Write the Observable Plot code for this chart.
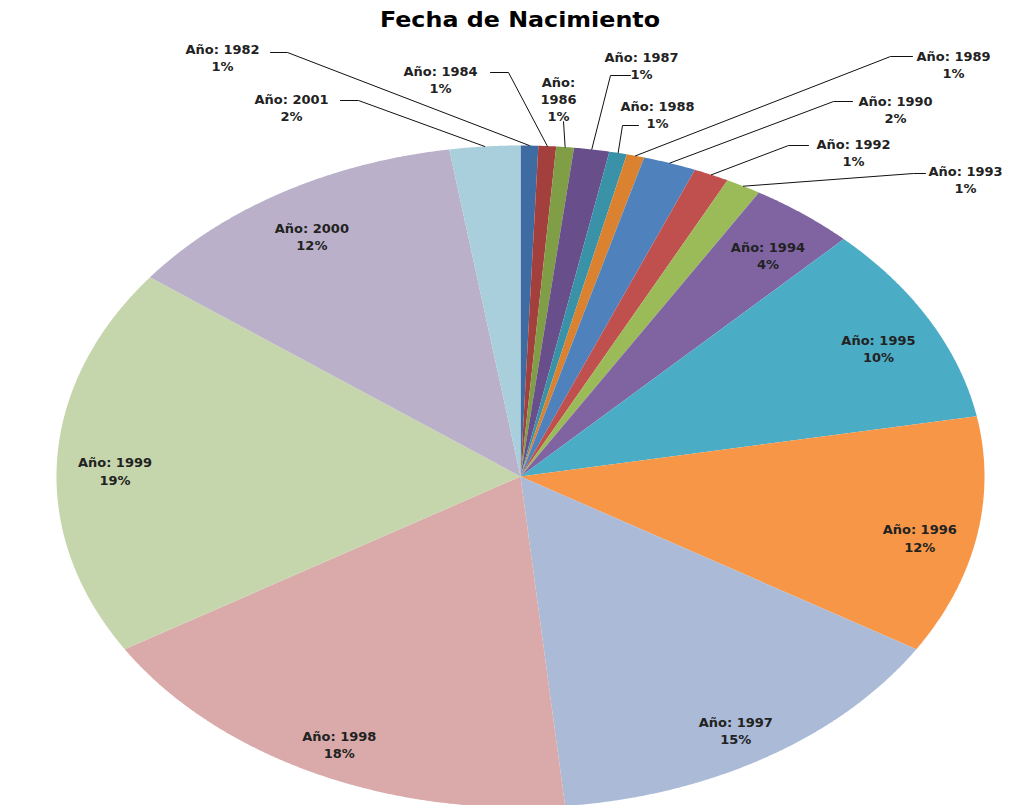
<!DOCTYPE html>
<html>
<head>
<meta charset="utf-8">
<script src="https://cdn.jsdelivr.net/npm/d3@7"></script>
<script src="https://cdn.jsdelivr.net/npm/@observablehq/plot@0.6"></script>
<style>
  html, body { margin: 0; padding: 0; background: #fff; }
  body { width: 1029px; height: 805px; overflow: hidden; font-family: "DejaVu Sans", sans-serif; }
  #title { position: relative; height: 38px; }
  #title span {
    position: absolute; left: 520px; top: 9px;
    transform: translateX(-50%) scaleX(1.16);
    font-size: 20.5px; font-weight: bold; color: #000; white-space: nowrap; line-height: 22px;
  }
  #chart svg { display: block; }
</style>
</head>
<body>
<div id="title"><span>Fecha de Nacimiento</span></div>
<div id="chart"></div>
<script>
// ---- data (clockwise from 12 o'clock) ----
const years  = ["1982","1984","1986","1987","1988","1989","1990","1992","1993","1994","1995","1996","1997","1998","1999","2000","2001"];
const counts = [1, 1, 1, 2, 1, 1, 3, 2, 2, 6, 16, 19, 24, 29, 31, 20, 4];
const colors = ["#3E6BA1","#A3403E","#7F9E45","#694E8C","#3A92A9","#DA822F",
                "#4F81BD","#C0504D","#9BBB59","#8064A2","#4BACC6","#F79646",
                "#AABAD7","#D9AAA9","#C6D6AC","#BAB0C9","#A9CEDC"];

// callout labels (small slices): label centre, leader start, elbow (page pixels)
const calloutYears  = ["1982","2001","1984","1986","1987","1988","1989","1990","1992","1993"];
const calloutText   = ["Año: 1982","Año: 2001","Año: 1984","Año:\n1986","Año: 1987","Año: 1988","Año: 1989","Año: 1990","Año: 1992","Año: 1993"];
const calloutLabel  = [[222,57],[291,106.5],[440,78.5],[558,98],[641,64.5],[657,114],[953,64],[895,108.5],[853,152],[965,178.5]];
const calloutStart  = [[270,52],[340,100],[490,72],[563,121],[630,75],[638,125],[912,56],[852,101],[808,145],[925,173]];
const calloutElbow  = [[287,52],[358,100],[508,72],[563,121],[610,75],[622,125],[890,56],[833,101],[788,145],[913,173]];

// ---- geometry ----
const W = 1029, H = 767, TOP = 38;
const CX = 520, CY = 476, RX = 464, RY = 331;          // ellipse in page pixels
const toU = px => (px - CX) / RX;
const toV = py => (CY - py) / RY;

const total = d3.sum(counts);
const table = years.map((y, i) => ({year: y, count: counts[i], pct: Math.round(counts[i] / total * 100)}));
const arcs = d3.pie().sort(null).value(d => d.count)(table);

const poly = [];
for (const a of arcs) {
  poly.push({year: a.data.year, u: 0, v: 0});
  const n = Math.max(2, Math.ceil((a.endAngle - a.startAngle) / 0.005));
  for (let k = 0; k <= n; k++) {
    const t = a.startAngle + (a.endAngle - a.startAngle) * k / n;
    poly.push({year: a.data.year, u: Math.sin(t), v: Math.cos(t)});
  }
  poly.push({year: a.data.year, u: 0, v: 0});
}

const mid = a => (a.startAngle + a.endAngle) / 2;
const inside = arcs.filter(a => !calloutYears.includes(a.data.year)).map(a => ({
  u: 0.875 * Math.sin(mid(a)), v: 0.875 * Math.cos(mid(a)),
  label: `Año: ${a.data.year}\n${a.data.pct}%`
}));

const callLabels = [], callLines = [];
calloutYears.forEach((y, i) => {
  const a = arcs.find(d => d.data.year === y);
  callLabels.push({u: toU(calloutLabel[i][0]), v: toV(calloutLabel[i][1]), label: `${calloutText[i]}\n${a.data.pct}%`});
  callLines.push({year: y, u: toU(calloutStart[i][0]), v: toV(calloutStart[i][1])});
  callLines.push({year: y, u: toU(calloutElbow[i][0]), v: toV(calloutElbow[i][1])});
  callLines.push({year: y, u: Math.sin(mid(a)), v: Math.cos(mid(a))});
});

const chart = Plot.plot({
  width: W, height: H,
  margin: 0,
  x: {domain: [-1, 1], range: [CX - RX, CX + RX], axis: null},
  y: {domain: [-1, 1], range: [CY + RY - TOP, CY - RY - TOP], axis: null},
  color: {domain: years, range: colors},
  style: {fontFamily: "DejaVu Sans, sans-serif", background: "#fff", overflow: "hidden"},
  marks: [
    Plot.line(poly, {x: "u", y: "v", z: "year", fill: "year", stroke: "none", curve: "linear"}),
    Plot.line(callLines, {x: "u", y: "v", z: "year", stroke: "#111", strokeWidth: 1, curve: "linear"}),
    Plot.text(inside, {x: "u", y: "v", text: "label", dy: 8, fontSize: 13, fontWeight: "bold", fill: "#222", lineHeight: 1.35}),
    Plot.text(callLabels, {x: "u", y: "v", text: "label", fontSize: 13, fontWeight: "bold", fill: "#222", lineHeight: 1.3})
  ]
});
document.getElementById("chart").appendChild(chart);
</script>
</body>
</html>
